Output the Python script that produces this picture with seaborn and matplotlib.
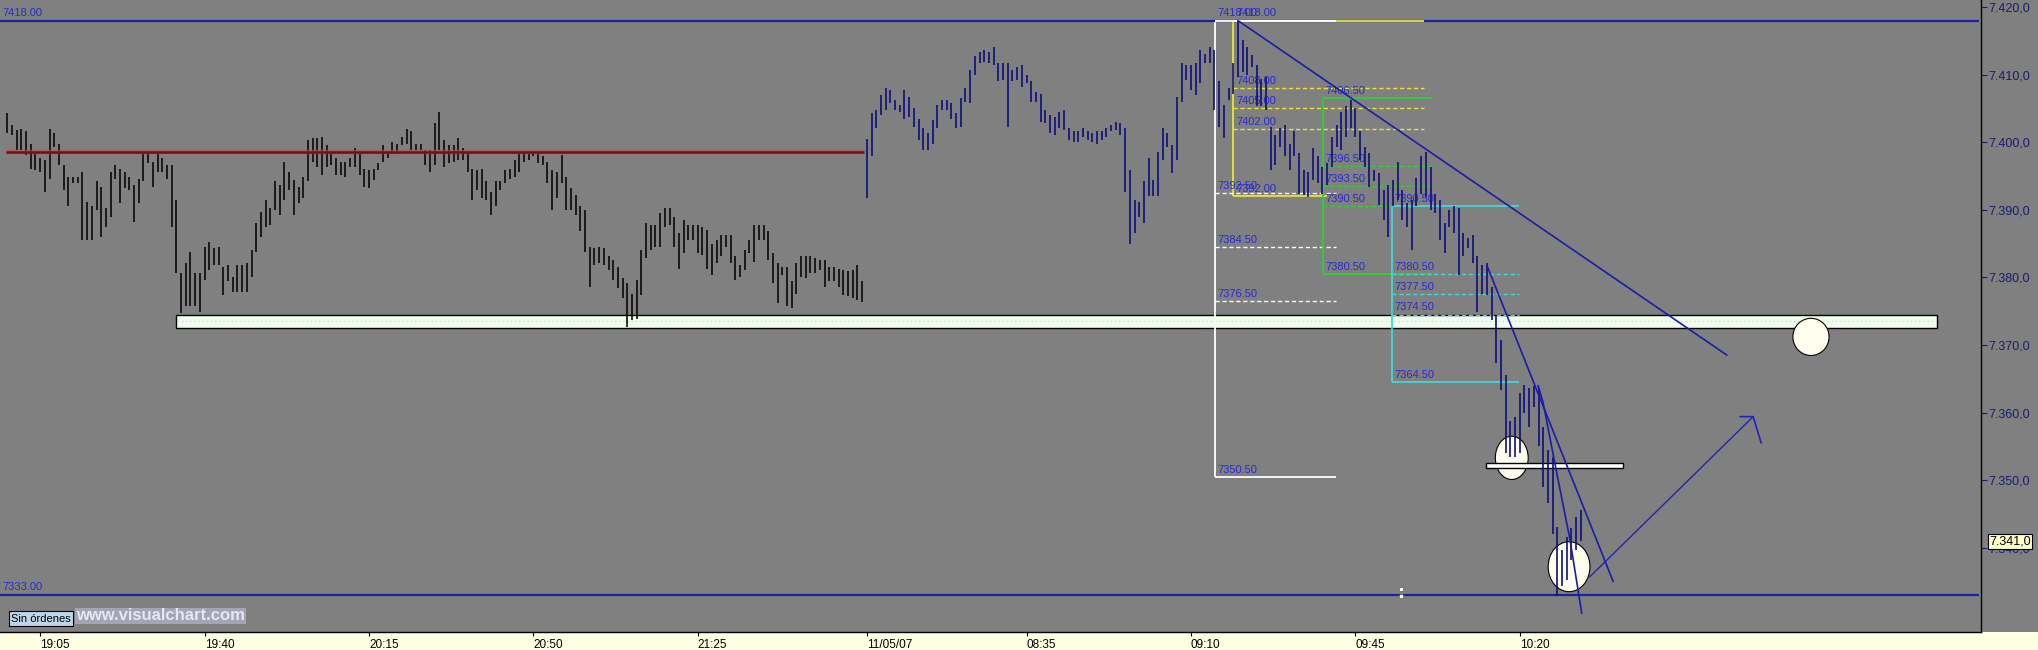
import numpy as np
import pandas as pd
import matplotlib
matplotlib.use("Agg")
import matplotlib.pyplot as plt
from matplotlib.patches import Rectangle, Ellipse
from matplotlib.ticker import FuncFormatter
import seaborn as sns

# 1-minute bars, evening session (black) - highs / lows
evening_high = [
    7404.3, 7402.5, 7401.8, 7402.0, 7401.6, 7399.8, 7398.3, 7397.6, 7397.4, 7402.0,
    7401.3, 7399.8, 7396.6, 7394.9, 7394.9, 7394.9, 7395.6, 7391.2, 7390.5, 7394.2,
    7393.4, 7390.2, 7395.6, 7396.6, 7396.1, 7395.6, 7394.9, 7393.7, 7394.6, 7398.3,
    7398.3, 7397.1, 7398.3, 7397.6, 7396.6, 7396.6, 7391.4, 7380.6, 7382.1, 7383.8,
    7380.6, 7380.6, 7384.5, 7385.3, 7384.3, 7384.5, 7381.6, 7381.8, 7380.1, 7381.8,
    7381.8, 7382.1, 7384.0, 7388.0, 7389.7, 7391.4, 7390.2, 7394.2, 7393.7, 7397.1,
    7395.6, 7394.4, 7393.4, 7394.9, 7400.3, 7400.6, 7400.6, 7400.8, 7399.6, 7398.3,
    7397.6, 7397.1, 7397.1, 7397.6, 7399.1, 7398.3, 7396.1, 7395.9, 7396.1, 7396.9,
    7399.6, 7398.6, 7400.1, 7399.8, 7400.8, 7402.0, 7401.6, 7399.8, 7399.8, 7398.8,
    7398.8, 7402.8, 7404.5, 7400.3, 7399.6, 7399.6, 7400.6, 7399.1, 7398.3, 7396.1,
    7395.9, 7396.1, 7394.2, 7392.7, 7394.2, 7394.2, 7395.9, 7396.1, 7397.4, 7398.3,
    7398.6, 7398.3, 7398.6, 7398.3, 7397.9, 7397.1, 7395.9, 7395.6, 7398.1, 7394.9,
    7393.2, 7392.2, 7390.5, 7390.0, 7384.5, 7384.3, 7384.5, 7384.3, 7383.1, 7382.6,
    7381.6, 7379.9, 7379.1, 7377.6, 7379.6, 7384.0, 7388.0, 7387.7, 7387.7, 7389.5,
    7390.2, 7390.2, 7389.0, 7386.5, 7388.5, 7387.7, 7387.7, 7387.7, 7387.5, 7387.0,
    7385.0, 7385.5, 7386.3, 7386.3, 7386.3, 7383.1, 7381.8, 7384.0, 7385.5, 7387.7,
    7387.7, 7387.7, 7386.8, 7383.6, 7382.1, 7381.6, 7381.6, 7379.4, 7382.1, 7383.1,
    7383.1, 7383.1, 7382.8, 7382.6, 7382.6, 7381.6, 7381.6, 7381.3, 7381.1, 7380.9,
    7381.1, 7381.8, 7379.4,
]
evening_low = [
    7401.3, 7401.1, 7398.8, 7398.8, 7398.1, 7396.1, 7395.9, 7395.6, 7392.7, 7394.6,
    7399.3, 7396.6, 7392.9, 7390.5, 7393.9, 7393.9, 7385.5, 7385.5, 7385.5, 7390.0,
    7386.0, 7387.5, 7389.0, 7394.6, 7391.0, 7393.2, 7392.9, 7388.2, 7391.0, 7394.2,
    7396.9, 7393.4, 7395.6, 7395.6, 7394.6, 7387.5, 7380.6, 7374.7, 7375.7, 7375.7,
    7375.7, 7374.9, 7379.6, 7381.1, 7381.8, 7381.8, 7377.4, 7379.4, 7377.9, 7377.9,
    7377.9, 7377.9, 7380.1, 7383.8, 7386.0, 7387.5, 7387.7, 7390.0, 7389.2, 7391.4,
    7392.9, 7389.2, 7391.0, 7391.7, 7394.2, 7397.1, 7396.4, 7395.1, 7396.4, 7396.6,
    7395.1, 7395.1, 7394.9, 7396.4, 7396.4, 7395.1, 7393.4, 7393.2, 7394.4, 7395.9,
    7397.1, 7397.6, 7398.3, 7398.3, 7399.6, 7399.8, 7398.8, 7398.8, 7398.8, 7396.6,
    7395.6, 7396.6, 7398.8, 7396.4, 7396.9, 7397.1, 7397.4, 7397.4, 7395.6, 7391.4,
    7392.9, 7391.7, 7391.4, 7389.2, 7390.5, 7392.9, 7393.9, 7394.6, 7394.9, 7395.6,
    7397.1, 7397.4, 7397.9, 7396.9, 7396.6, 7393.9, 7390.0, 7391.7, 7393.9, 7390.0,
    7390.0, 7389.2, 7386.8, 7383.8, 7378.6, 7381.8, 7382.1, 7381.8, 7381.1, 7379.6,
    7378.4, 7376.9, 7372.7, 7373.7, 7373.9, 7377.4, 7382.8, 7384.0, 7384.5, 7384.5,
    7387.5, 7387.7, 7384.5, 7381.3, 7383.6, 7385.5, 7385.5, 7383.6, 7383.3, 7381.3,
    7380.4, 7382.1, 7383.1, 7384.5, 7382.1, 7379.6, 7380.1, 7381.1, 7383.6, 7382.3,
    7385.5, 7385.5, 7382.6, 7379.1, 7376.2, 7380.4, 7375.7, 7375.4, 7377.6, 7380.1,
    7379.9, 7380.6, 7380.6, 7381.1, 7378.6, 7379.4, 7379.4, 7378.6, 7377.4, 7377.2,
    7376.9, 7376.7, 7376.4,
]

# morning session 11/05/07 (navy bars)
morning_high = [
    7400.5, 7404.3, 7404.8, 7407.0, 7408.0, 7407.7, 7406.2, 7405.5, 7407.7, 7406.7,
    7405.0, 7403.5, 7402.1, 7401.3, 7403.3, 7405.5, 7406.2, 7406.2, 7405.8, 7404.3,
    7406.5, 7408.0, 7410.7, 7412.7, 7413.4, 7413.6, 7413.4, 7414.1, 7411.7, 7411.7,
    7411.7, 7410.7, 7411.2, 7411.4, 7409.9, 7409.0, 7407.5, 7407.2, 7404.8, 7404.0,
    7403.8, 7404.5, 7404.8, 7402.1, 7401.6, 7401.6, 7402.1, 7401.6, 7401.3, 7401.6,
    7401.6, 7402.1, 7402.5, 7403.0, 7402.8, 7402.1, 7395.9, 7391.4, 7391.2, 7394.2,
    7397.6, 7394.4, 7398.6, 7402.1, 7401.3, 7399.6, 7406.7, 7411.7, 7411.4, 7411.4,
    7411.7, 7413.6, 7413.1, 7414.1, 7413.6, 7409.0, 7405.5, 7408.0, 7411.7, 7418.0,
    7415.1, 7414.1, 7412.9, 7411.4, 7409.4, 7409.7, 7402.3, 7401.1, 7402.1, 7402.5,
    7399.8, 7401.6, 7398.4, 7395.9, 7395.6, 7399.1, 7397.9, 7396.4, 7396.9, 7400.8,
    7402.5, 7404.5, 7405.3, 7406.2, 7405.0, 7401.6, 7399.3, 7398.4, 7395.9, 7395.4,
    7392.9, 7393.7, 7394.4, 7397.1, 7392.9, 7391.0, 7391.4, 7394.7, 7397.9, 7398.6,
    7396.4, 7392.4, 7391.4, 7388.0, 7390.0, 7390.5, 7390.2, 7386.5, 7385.8, 7386.3,
    7383.1, 7381.8, 7382.1, 7378.6, 7374.5, 7370.7, 7365.6, 7358.7, 7359.4, 7362.9,
    7364.1, 7363.6, 7363.9, 7363.6, 7357.9, 7354.5, 7353.5, 7343.1, 7339.7, 7341.6,
    7342.9, 7344.6, 7345.6,
]
morning_low = [
    7391.7, 7397.9, 7402.1, 7404.0, 7404.8, 7405.8, 7404.8, 7404.5, 7403.5, 7403.8,
    7402.3, 7400.3, 7398.8, 7398.8, 7399.8, 7402.1, 7404.8, 7404.8, 7403.5, 7402.1,
    7402.3, 7406.0, 7405.8, 7409.9, 7411.7, 7411.9, 7411.7, 7411.4, 7409.0, 7409.2,
    7402.3, 7409.0, 7409.2, 7408.2, 7408.7, 7406.0, 7406.0, 7403.0, 7402.8, 7401.3,
    7401.1, 7402.1, 7401.8, 7400.3, 7400.1, 7400.1, 7400.8, 7400.3, 7400.1, 7399.8,
    7400.3, 7400.8, 7401.6, 7401.8, 7401.1, 7392.7, 7385.0, 7386.5, 7389.0, 7388.0,
    7392.0, 7392.0, 7392.0, 7397.4, 7399.3, 7395.4, 7397.4, 7406.0, 7409.2, 7407.7,
    7407.0, 7408.7, 7411.7, 7411.7, 7404.8, 7402.3, 7400.6, 7406.3, 7407.2, 7409.7,
    7410.4, 7410.0, 7411.2, 7405.3, 7405.3, 7404.8, 7395.9, 7396.6, 7399.3, 7397.9,
    7395.9, 7397.9, 7392.4, 7392.2, 7391.9, 7394.4, 7393.9, 7392.4, 7393.7, 7396.4,
    7399.3, 7398.8, 7400.8, 7402.1, 7400.8, 7397.4, 7396.4, 7393.4, 7394.2, 7390.7,
    7388.5, 7386.0, 7390.5, 7391.4, 7388.5, 7387.5, 7384.0, 7390.5, 7392.4, 7391.9,
    7390.0, 7389.5, 7385.5, 7383.6, 7387.5, 7386.5, 7380.4, 7383.1, 7384.3, 7382.1,
    7374.9, 7377.6, 7377.4, 7373.7, 7367.3, 7363.3, 7354.0, 7353.5, 7353.5, 7354.0,
    7359.9, 7357.9, 7360.9, 7355.0, 7349.0, 7346.6, 7342.1, 7332.8, 7334.3, 7335.2,
    7338.2, 7339.7, 7341.0,
]
morning_start = 183

tick_pos = [7, 42, 77, 112, 147, 183, 217, 252, 287, 322]
tick_labels = ["19:05", "19:40", "20:15", "20:50", "21:25", "11/05/07",
               "08:35", "09:10", "09:45", "10:20"]
price_ticks = [7340, 7350, 7360, 7370, 7380, 7390, 7400, 7410, 7420]
last_price = 7341.0

top_line = 7418.0
bottom_line = 7333.0
red_level = 7398.5
zone_low, zone_high = 7372.5, 7374.5

# fibonacci tools: levels top..bottom
fib_white = [7418.0, 7392.5, 7384.5, 7376.5, 7350.5]
fib_yellow = [7418.0, 7408.0, 7405.0, 7402.0, 7392.0]
fib_green = [7406.5, 7396.5, 7393.5, 7390.5, 7380.5]
fib_cyan = [7390.5, 7380.5, 7377.5, 7374.5, 7364.5]

# hand drawn lines (bar index, price)
trend_long_x, trend_long_y = [262.0, 366.1], [7418.0, 7368.5]
trend_steep_x, trend_steep_y = [315.0, 341.9], [7381.8, 7335.0]
trend_curve_x = [325.9, 327.0, 329.9, 332.7, 335.2]
trend_curve_y = [7364.0, 7361.4, 7351.0, 7341.2, 7330.3]
arrow_x = [336.9, 371.7]
arrow_y = [7335.7, 7359.4]
head_x = [368.9, 371.7, 373.4]
head_y = [7359.4, 7359.4, 7355.5]

# ellipses: centre x, centre y, width (bars), height (points)
ellipses = [(384.0, 7371.2, 7.7, 5.5), (320.3, 7353.3, 7.0, 6.4), (332.5, 7337.2, 8.9, 7.4)]

sns.set_theme(style="white", rc={"axes.facecolor": "#808080", "figure.facecolor": "#808080"})
plt.rcParams["font.family"] = ["Liberation Sans", "DejaVu Sans"]

W, H = 2038, 650
fig = plt.figure(figsize=(W / 100, H / 100), dpi=100)
ax = fig.add_axes([0, 18 / H, 1981 / W, 632 / H])
ax.set_xlim(-1.55, 420.2)
ax.set_ylim(7327.54, 7421.04)

fig.patches.append(Rectangle((0, 0), 1, 18 / H, transform=fig.transFigure,
                             fc="#FFFFE4", ec="none", zorder=-5))

label_col = "#2A2AD0"
blue = "#20209C"

# support zone box
ax.add_patch(Rectangle((35.9, zone_low), 410.8 - 35.9, zone_high - zone_low,
                       fc="#F2FFF0", ec="black", lw=1.0, zorder=1))
ax.hlines((zone_low + zone_high) / 2, 36.2, 410.5, colors="#B8E6B8", linestyles=(0, (1, 2)),
          lw=1.0, zorder=1.1)

# horizontal level lines
ax.hlines([top_line, bottom_line], -1.55, 419.8, colors=blue, lw=1.6, zorder=3)
ax.annotate(f"{top_line:.2f}", (0, top_line), xycoords=("axes fraction", "data"),
            xytext=(2, 2), textcoords="offset points", fontsize=8, color=label_col, va="bottom")
ax.annotate(f"{bottom_line:.2f}", (0, bottom_line), xycoords=("axes fraction", "data"),
            xytext=(2, 2), textcoords="offset points", fontsize=8, color=label_col, va="bottom")


def fib(levels, x0, x1, color, bottom_end=None, top_start=None):
    ax.vlines(x0, levels[-1], levels[0], colors=color, lw=1.3, zorder=2.6)
    ax.hlines(levels[0], top_start if top_start else x0, x1, colors=color, lw=1.3, zorder=3.2)
    ax.hlines(levels[-1], x0, bottom_end if bottom_end else x1, colors=color, lw=1.3, zorder=2.6)
    ax.hlines(levels[1:-1], x0, x1, colors=color, lw=1.0, linestyles=(0, (3, 2)), zorder=2.6)
    for lv in levels:
        ax.annotate(f"{lv:.2f}", (x0, lv), xytext=(2, 1.5), textcoords="offset points",
                    fontsize=8, color=label_col, va="bottom", zorder=2.7)


fib(fib_yellow, 261.0, 301.6, "#E8E830", bottom_end=281.0)
fib(fib_white, 257.1, 282.9, "#FFFFFF")
fib(fib_green, 280.1, 303.3, "#30D030")
fib(fib_cyan, 294.8, 321.9, "#40D8D8")

# ellipses and white bar
for cx, cy, w, h in ellipses:
    ax.add_patch(Ellipse((cx, cy), w, h, fc="#FFFDEE", ec="black", lw=0.8, zorder=2.8))
ax.add_patch(Rectangle((314.8, 7351.8), 344.0 - 314.8, 0.75, fc="white", ec="black",
                       lw=1.0, zorder=2.9))

# price bars
ev_x = np.arange(len(evening_high))
mo_x = morning_start + np.arange(len(morning_high))
ax.vlines(ev_x, evening_low, evening_high, colors="#0A0A0A", lw=1.2, zorder=4)
ax.vlines(mo_x, morning_low, morning_high, colors="#0E0E7A", lw=1.2, zorder=4)

# red resistance line over the evening session
ax.hlines(red_level, -0.2, 182.3, colors="#B85050", lw=3.2, alpha=0.6, zorder=4.4)
ax.hlines(red_level, -0.2, 182.3, colors="#741010", lw=1.8, zorder=4.5)

# trend lines
for xs, ys in [(trend_long_x, trend_long_y), (trend_steep_x, trend_steep_y),
               (trend_curve_x, trend_curve_y)]:
    sns.lineplot(x=xs, y=ys, ax=ax, color="#1C1CA8", lw=1.2, sort=False,
                 estimator=None, legend=False, zorder=5)
sns.lineplot(x=arrow_x, y=arrow_y, ax=ax, color="#2424B4", lw=1.0, sort=False,
             estimator=None, legend=False, zorder=5)
sns.lineplot(x=head_x, y=head_y, ax=ax, color="#2424B4", lw=1.2, sort=False,
             estimator=None, legend=False, zorder=5)

# little marker on the bottom line
ax.scatter([296.7, 296.7], [7333.9, 7332.9], s=10, c="white", edgecolors="#555555",
           linewidths=0.4, zorder=5)

# axes styling
for s in ["top", "left"]:
    ax.spines[s].set_visible(False)
for s in ["right", "bottom"]:
    ax.spines[s].set_visible(True)
    ax.spines[s].set_color("black")
    ax.spines[s].set_linewidth(1.0)
ax.yaxis.tick_right()
ax.set_yticks(price_ticks)
ax.yaxis.set_major_formatter(FuncFormatter(
    lambda v, p: f"{v:,.1f}".replace(",", "X").replace(".", ",").replace("X", ".")))
ax.tick_params(axis="y", direction="out", length=4, width=0.8, color="#1A1A70",
               labelcolor="#1A1A70", labelsize=9, pad=1, right=True, left=False)
ax.set_xticks(tick_pos, tick_labels)
ax.tick_params(axis="x", direction="out", length=3, width=0.8, color="black",
               labelcolor="black", labelsize=8.5, pad=2, bottom=True)
for lbl in ax.get_xticklabels():
    lbl.set_ha("left")
ax.grid(False)
ax.set_xlabel("")
ax.set_ylabel("")

# last price tag
ax.annotate(f"{last_price:,.1f}".replace(",", "X").replace(".", ",").replace("X", "."),
            (1, last_price), xycoords=("axes fraction", "data"), xytext=(6, 0),
            textcoords="offset points", fontsize=9, color="black", va="center", ha="left",
            bbox=dict(boxstyle="square,pad=0.12", fc="#FFFFC8", ec="black", lw=0.8),
            annotation_clip=False)

# footer texts
fig.text(11 / W, 1 - 618.5 / H, "Sin órdenes", fontsize=8, color="black", va="center",
         ha="left", bbox=dict(boxstyle="square,pad=0.2", fc="#BCD6EA", ec="black", lw=0.8))
fig.text(76 / W, 1 - 616 / H, "www.visualchart.com", fontsize=12, fontweight="bold",
         color="#E6E6FA", va="center", ha="left",
         bbox=dict(boxstyle="square,pad=0.05", fc="#A4A4B2", ec="none"))

fig.savefig("out.png", dpi=100)
